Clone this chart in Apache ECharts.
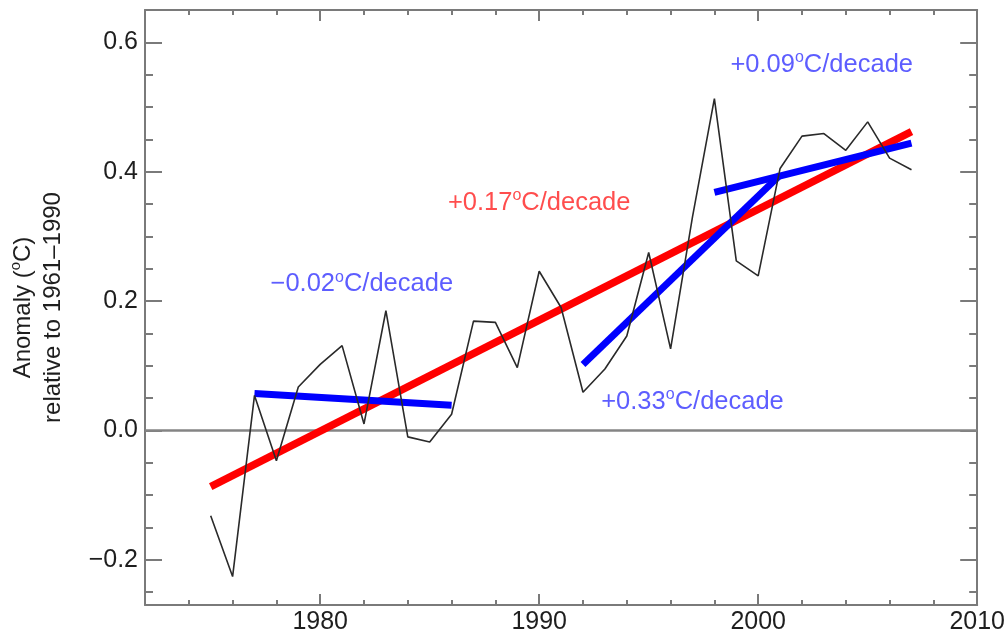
<!DOCTYPE html>
<html><head><meta charset="utf-8">
<script src="https://cdn.jsdelivr.net/npm/echarts@6/dist/echarts.min.js"></script>
<style>html,body{margin:0;padding:0;background:#fff}#c{width:1008px;height:637px}</style>
</head><body><div id="c"></div>
<script>
// ---- data ----
const years = [1975,1976,1977,1978,1979,1980,1981,1982,1983,1984,1985,1986,1987,1988,1989,1990,
               1991,1992,1993,1994,1995,1996,1997,1998,1999,2000,2001,2002,2003,2004,2005,2006,2007];
const anomaly = [-0.132,-0.226,0.054,-0.047,0.067,0.102,0.131,0.010,0.185,-0.010,-0.018,0.025,0.169,0.167,0.097,0.246,
                 0.190,0.059,0.095,0.146,0.275,0.126,0.330,0.513,0.262,0.239,0.405,0.455,0.459,0.433,0.477,0.421,0.403];
// linear trends [startYear, endYear], [startValue, endValue]
const trendAllYears = [1975, 2007];
const trendAllValues = [-0.087, 0.462];
const trend1Years = [1977, 1986];
const trend1Values = [0.057, 0.039];
const trend2Years = [1992, 2001];
const trend2Values = [0.102, 0.395];
const trend3Years = [1998, 2007];
const trend3Values = [0.368, 0.444];
// annotation texts and their anchor (data coordinates)
const redNote = ['+0.17'];
const redNoteYear = [1990.0];
const redNoteValue = [0.352];
const blueNotes = ['\u22120.02', '+0.33', '+0.09'];
const blueNoteYears = [1981.9, 1997.0, 2002.9];
const blueNoteValues = [0.226, 0.044, 0.565];
const xRange = [1972, 2010];
const yRange = [-0.27, 0.65];
const yTitle = 'Anomaly ({s|o}C)\nrelative to 1961\u20131990';

// ---- styles ----
const FONT = '"Liberation Sans", Arial, Helvetica, sans-serif';
const axisColor = '#7a7a7a';
const textColor = '#1e1e1e';

function yFmt(v){
  const k = v / 0.2;
  if (Math.abs(k - Math.round(k)) > 1e-6) return '';
  let s = (Math.round(k) * 0.2).toFixed(1);
  if (s === '-0.0') s = '0.0';
  return s.replace('-', '\u2212');
}
function xFmt(v){
  return Math.abs(v % 10) < 1e-6 ? String(Math.round(v)) : '';
}
function pairs(xs, ys){ return xs.map((x, i) => [x, ys[i]]); }

function xAxisDef(pos, labels){
  return {
    type: 'value', position: pos, min: xRange[0], max: xRange[1],
    minInterval: 10, maxInterval: 10,
    axisLine: {show: true, onZero: false, lineStyle: {color: axisColor, width: 2}},
    axisTick: {show: true, inside: true, length: 11, lineStyle: {color: axisColor, width: 2}},
    minorTick: {show: true, splitNumber: 5, length: 5, lineStyle: {color: axisColor, width: 2}},
    axisLabel: {show: labels, formatter: xFmt, fontSize: 25, color: textColor, margin: 5, fontFamily: FONT},
    splitLine: {show: false}, minorSplitLine: {show: false}
  };
}
function yAxisDef(pos, labels){
  const a = {
    type: 'value', position: pos, min: yRange[0], max: yRange[1],
    minInterval: 0.2, maxInterval: 0.2,
    axisLine: {show: true, onZero: false, lineStyle: {color: axisColor, width: 2}},
    axisTick: {show: true, inside: true, length: 17, lineStyle: {color: axisColor, width: 2}},
    minorTick: {show: true, splitNumber: 4, length: 8, lineStyle: {color: axisColor, width: 2}},
    axisLabel: {show: labels, formatter: yFmt, fontSize: 25, color: textColor, margin: 7, fontFamily: FONT},
    splitLine: {show: false}, minorSplitLine: {show: false}
  };
  if (labels) {
    a.name = yTitle;
    a.nameLocation = 'middle';
    a.nameRotate = 90;
    a.nameGap = 77;
    a.nameTextStyle = {fontSize: 24, lineHeight: 30, color: textColor, fontFamily: FONT,
      rich: {s: {fontSize: 15, verticalAlign: 'top', color: textColor, fontFamily: FONT}}};
  }
  return a;
}
function noteLabel(color){
  return {
    show: true, position: 'inside',
    formatter: p => '{a|' + p.name + '}{s|o}{a|C/decade}',
    rich: {
      a: {fontSize: 25.5, lineHeight: 30, color: color, fontFamily: FONT},
      s: {fontSize: 16, verticalAlign: 'top', color: color, fontFamily: FONT}
    }
  };
}

const chart = echarts.init(document.getElementById('c'), null, {renderer: 'canvas'});
chart.setOption({
  animation: false,
  backgroundColor: '#fff',
  grid: {left: 144, right: 30, top: 10, bottom: 32, containLabel: false},
  xAxis: [xAxisDef('bottom', true), xAxisDef('top', false)],
  yAxis: [yAxisDef('left', true), yAxisDef('right', false)],
  series: [
    {type: 'line', name: 'all', data: pairs(trendAllYears, trendAllValues), symbol: 'none', z: 2,
     lineStyle: {color: '#ff0000', width: 7.5}, silent: true,
     markLine: {silent: true, symbol: ['none', 'none'], z: 1, label: {show: false},
       lineStyle: {color: '#848484', width: 2.5, type: 'solid'}, data: [{yAxis: 0}]}},
    {type: 'line', data: pairs(trend1Years, trend1Values), symbol: 'none', z: 3,
     lineStyle: {color: '#0000ff', width: 7}, silent: true},
    {type: 'line', data: pairs(trend2Years, trend2Values), symbol: 'none', z: 3,
     lineStyle: {color: '#0000ff', width: 7}, silent: true},
    {type: 'line', data: pairs(trend3Years, trend3Values), symbol: 'none', z: 3,
     lineStyle: {color: '#0000ff', width: 7}, silent: true},
    {type: 'line', data: pairs(years, anomaly), symbol: 'none', z: 4,
     lineStyle: {color: '#2a2a2a', width: 1.6}, silent: true},
    {type: 'scatter', symbolSize: 0, z: 5, silent: true,
     data: redNote.map((t, i) => ({name: t, value: [redNoteYear[i], redNoteValue[i]]})),
     label: noteLabel('#ff2020')},
    {type: 'scatter', symbolSize: 0, z: 5, silent: true,
     data: blueNotes.map((t, i) => ({name: t, value: [blueNoteYears[i], blueNoteValues[i]]})),
     label: noteLabel('#3434ff')}
  ]
});
</script>
</body></html>
